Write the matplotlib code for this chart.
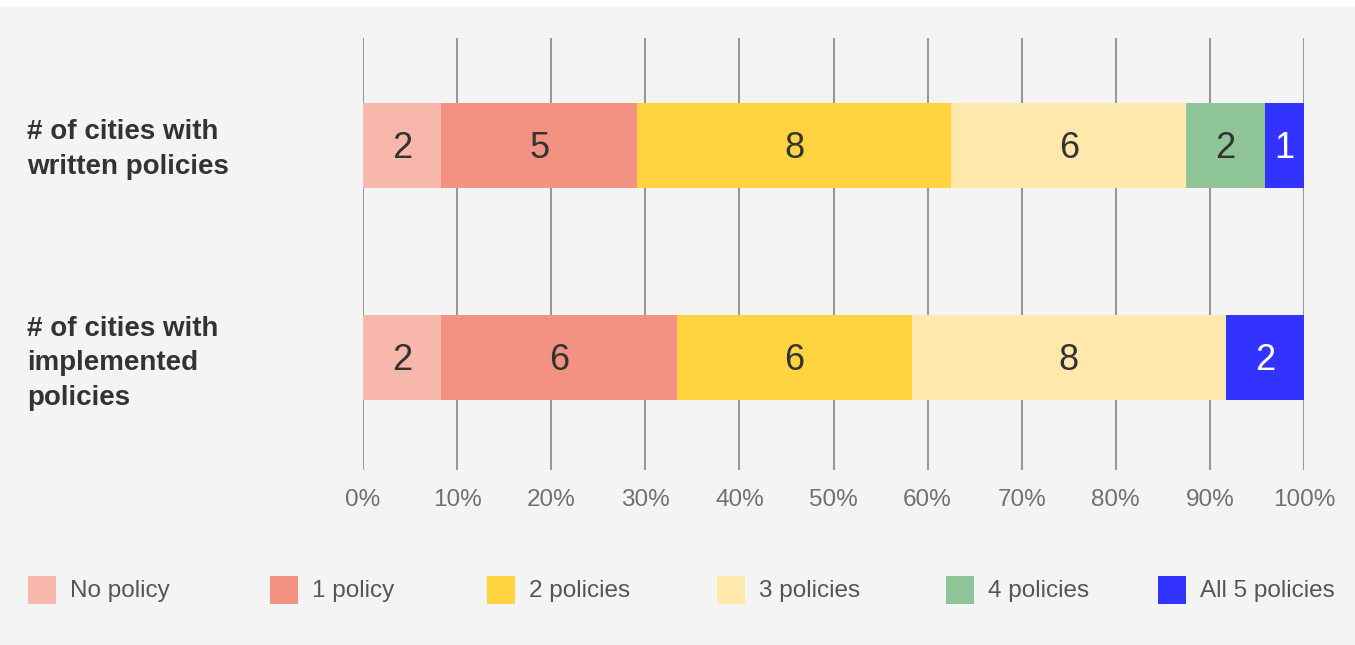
import matplotlib.pyplot as plt
from matplotlib.patches import Rectangle
import numpy as np

plt.rcParams['font.family'] = ['Liberation Sans', 'DejaVu Sans']

rows = ['# of cities with\nwritten policies', '# of cities with\nimplemented\npolicies']
categories = ['No policy', '1 policy', '2 policies', '3 policies', '4 policies', 'All 5 policies']
written = [2, 5, 8, 6, 2, 1]
implemented = [2, 6, 6, 8, 0, 2]
colors = ['#f7b8ab', '#f39183', '#ffd43f', '#fee8ac', '#8fc497', '#3333ff']
text_colors = ['#333333'] * 5 + ['white']
xticks = [0, 10, 20, 30, 40, 50, 60, 70, 80, 90, 100]

counts = np.array([written, implemented], dtype=float)
pct = counts / counts.sum(axis=1, keepdims=True) * 100

fig = plt.figure(figsize=(13.55, 6.45), dpi=100, facecolor='white')
fig.patches.append(Rectangle((0, 0), 1, 1 - 7 / 645, transform=fig.transFigure,
                             facecolor='#f4f4f4', edgecolor='none', zorder=-10))
ax = fig.add_axes([363 / 1355, 1 - 470 / 645, (1304 - 363) / 1355, 432 / 645])
ax.set_facecolor('none')

ypos = np.arange(len(rows))
left = np.zeros(len(rows))
for j, cat in enumerate(categories):
    w = pct[:, j]
    ax.barh(ypos, w, left=left, height=0.40, color=colors[j], zorder=2, label=cat)
    for i in range(len(rows)):
        if counts[i, j] > 0:
            ax.text(left[i] + w[i] / 2, ypos[i] + 0.015, f'{int(counts[i, j])}',
                    ha='center', va='center', fontsize=26, color=text_colors[j], zorder=3)
    left += w

ax.set_xlim(0, 100)
ax.set_ylim(1.531, -0.507)
for x in xticks:
    ax.axvline(x, color='#999999', lw=1.5, zorder=1)
ax.set_xticks(xticks)
ax.set_xticklabels([f'{x}%' for x in xticks], fontsize=17.5, color='#707070')
ax.tick_params(axis='x', length=0, pad=14)
ax.set_yticks([])
for s in ax.spines.values():
    s.set_visible(False)

# row labels, nudged down in pixels
label_shift = [-4, -6]
for i, r in enumerate(rows):
    ax.text(27, ax.transData.transform((0, ypos[i]))[1] + label_shift[i], r,
            transform=None, ha='left', va='center', fontsize=20, fontweight='bold',
            color='#333333', linespacing=1.42)

# legend laid out by hand
leg_x = [28, 270, 487, 717, 946, 1158]
for x0, cat, c in zip(leg_x, categories, colors):
    fig.patches.append(Rectangle((x0 / 1355, 1 - 604 / 645), 28 / 1355, 28 / 645,
                                 transform=fig.transFigure, facecolor=c, edgecolor='none'))
    fig.text((x0 + 42) / 1355, 1 - 591 / 645, cat, ha='left', va='center',
             fontsize=17.5, color='#555555')

fig.savefig('out.png', dpi=100, facecolor=fig.get_facecolor())
